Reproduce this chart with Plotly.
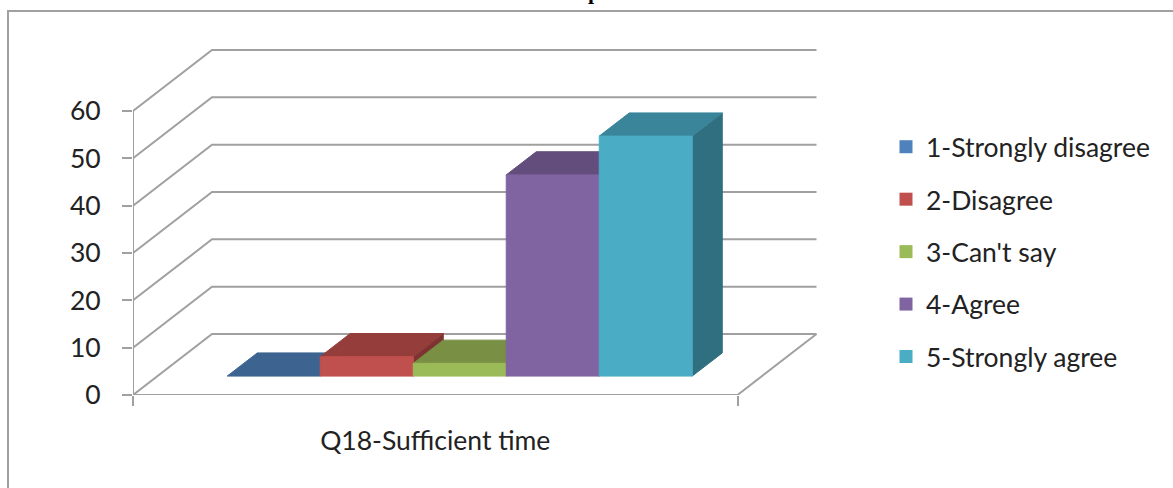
import plotly.graph_objects as go

# ---------------- data ----------------
series_names = ["1-Strongly disagree", "2-Disagree", "3-Can't say", "4-Agree", "5-Strongly agree"]
values = [0, 4.1, 2.7, 42.5, 50.7]
category_label = "Q18-Sufficient time"
y_ticks = [0, 10, 20, 30, 40, 50, 60]
front_colors = ["#4F81BD", "#C0504D", "#9BBB59", "#8064A2", "#4BACC6"]
top_colors = ["#3D6491", "#953D3B", "#788F44", "#624D7C", "#3A859A"]
side_colors = ["#335479", "#7D3331", "#647838", "#524068", "#306F80"]
title_text = "Graph 18"

# ---------------- geometry (pseudo-3D projection) ----------------
W, H = 1173, 488
ml, mt = 133, 40
plot_w, plot_h = 687, 355
mr = W - ml - plot_w
mb = H - mt - plot_h
px_per_x = 93.0
x_max = plot_w / px_per_x
y_max = 75.0
px_per_y = plot_h / y_max
depth_dx = 79 / px_per_x      # oblique depth offset in x units
depth_dy = 61 / px_per_y      # oblique depth offset in y units
gap = 0.75
floor_w = len(values) + 2 * gap
d0, d1 = 0.31, 0.69           # bar depth (fraction of wall depth)
grid_color = "#a0a0a0"
text_color = "#222222"
font_family = "Lato, Carlito, Calibri, sans-serif"
fsize = 26.5

fig = go.Figure()

# walls / gridlines / floor / axis line
gx, gy = [], []
for t in y_ticks:
    gx += [0, depth_dx, floor_w + depth_dx, None]
    gy += [t, t + depth_dy, t + depth_dy, None]
gx += [0, floor_w, floor_w + depth_dx, None]
gy += [0, 0, depth_dy, None]
gx += [0, 0, None]
gy += [0, y_ticks[-1], None]
fig.add_trace(go.Scatter(x=gx, y=gy, mode="lines", line=dict(color=grid_color, width=2),
                         hoverinfo="skip", showlegend=False))


def poly(xs, ys, color):
    fig.add_trace(go.Scatter(x=xs + [xs[0]], y=ys + [ys[0]], mode="lines", fill="toself",
                             fillcolor=color, line=dict(color=color, width=1),
                             hoverinfo="skip", showlegend=False))


for i, v in enumerate(values):
    a = gap + i
    b = a + 1
    fx0, fx1 = a + d0 * depth_dx, b + d0 * depth_dx
    bx0, bx1 = a + d1 * depth_dx, b + d1 * depth_dx
    fy, by = d0 * depth_dy, d1 * depth_dy
    # side face
    if v > 0:
        poly([fx1, bx1, bx1, fx1], [fy, by, by + v, fy + v], side_colors[i])
    # top face
    poly([fx0, fx1, bx1, bx0], [fy + v, fy + v, by + v, by + v], top_colors[i])
    # front face
    if v > 0:
        poly([fx0, fx1, fx1, fx0], [fy, fy, fy + v, fy + v], front_colors[i])

# legend entries
for i, name in enumerate(series_names):
    fig.add_trace(go.Scatter(x=[None], y=[None], mode="markers", name=name,
                             marker=dict(symbol="square", size=13, color=front_colors[i]),
                             legendgroup=name))

fig.update_layout(
    width=W, height=H,
    margin=dict(l=ml, r=mr, t=mt, b=mb, pad=0),
    paper_bgcolor="white", plot_bgcolor="white",
    font=dict(family=font_family, size=fsize, color=text_color),
    xaxis=dict(range=[0, x_max], showgrid=False, zeroline=False, showline=False,
               tickmode="array", tickvals=[floor_w / 2], ticktext=[category_label],
               ticks="", ticklabelstandoff=27, automargin=False,
               tickfont=dict(size=fsize),
               minor=dict(tickmode="array", tickvals=[0, floor_w], ticks="outside",
                          ticklen=10, tickwidth=2, tickcolor=grid_color),
               fixedrange=True),
    yaxis=dict(range=[0, y_max], showgrid=False, zeroline=False, showline=False,
               tickmode="array", tickvals=y_ticks, ticks="outside", ticklen=10,
               tickwidth=2, tickcolor=grid_color, ticklabelstandoff=16,
               tickfont=dict(size=fsize),
               automargin=False, fixedrange=True),
    legend=dict(x=(886 - ml) / plot_w, xanchor="left", y=(mt + plot_h - 252) / plot_h,
                yanchor="middle", font=dict(size=fsize, family=font_family, color=text_color),
                tracegroupgap=15, bgcolor="rgba(0,0,0,0)", itemclick=False),
    shapes=[dict(type="rect", xref="paper", yref="paper",
                 x0=(8 - ml) / plot_w, x1=(W + 10 - ml) / plot_w,
                 y0=(mt + plot_h - (H + 10)) / plot_h, y1=(mt + plot_h - 11) / plot_h,
                 line=dict(color=grid_color, width=2), layer="below")],
    annotations=[dict(text="<b>" + title_text + "</b>", xref="paper", yref="paper",
                      x=(595 - ml) / plot_w, y=(mt + plot_h - 6) / plot_h,
                      xanchor="center", yanchor="bottom", showarrow=False,
                      font=dict(family="Liberation Serif, Times New Roman, serif",
                                size=22, color="black"))],
)

fig.write_html("out.html")
